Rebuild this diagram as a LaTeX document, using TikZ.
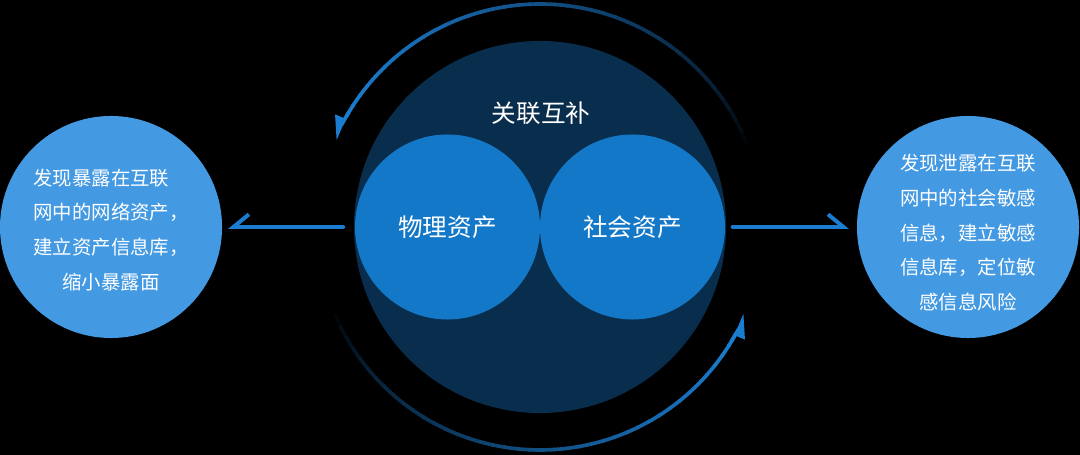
\documentclass[tikz,border=0pt]{standalone}
\usepackage{fontspec}
\usepackage{tikz}
\usetikzlibrary{arrows.meta}
\newfontfamily\cjk{Noto Sans CJK SC}
\definecolor{corenavy}{RGB}{9,45,77}
\definecolor{assetblue}{RGB}{20,120,200}
\definecolor{sideblue}{RGB}{67,153,226}
\definecolor{arrowblue}{RGB}{27,125,208}

\begin{document}
\begin{tikzpicture}[x=0.025cm,y=0.025cm,line join=round,
    bigc/.style={circle,fill=corenavy,minimum size=9.3cm,inner sep=0pt},
    assetc/.style={circle,fill=assetblue,minimum size=4.625cm,inner sep=0pt,
      text=white,font=\cjk\fontsize{17.5}{21}\selectfont},
    sidec/.style={circle,fill=sideblue,minimum size=5.55cm,inner sep=0pt},
    sidetext/.style={text=white,align=center,font=\cjk\fontsize{13.8}{24.6}\selectfont},
    link/.style={arrowblue,line width=2.8pt,line cap=round},
    loop/.style={line width=2.6pt}]
        \fill[black] (0,0) rectangle (1080,455);
        \node[bigc] (core) at (540,228) {};
        \node[assetc] (phys) at (447.5,228) {物理资产};
        \node[assetc] (soc) at (632.5,228) {社会资产};
        \node[text=white,font=\cjk\fontsize{17.5}{21}\selectfont] (title) at (541,342) {关联互补};
        \node[sidec] (leftc) at (111,228) {};
        \node[sidec] (rightc) at (968,228) {};
        \node[sidetext] (lefttext) at ([yshift=-2]leftc.center)
          {发现暴露在互联\hphantom{，}\\网中的网络资产，\\建立资产信息库，\\缩小暴露面};
        \node[sidetext] (righttext) at ([yshift=-4]rightc.center)
          {发现泄露在互联\\网中的社会敏感\\信息，建立敏感\\信息库，定位敏\\感信息风险};
        \draw[link,shorten <=7.5pt,shorten >=4pt,-{Straight Barb[right,length=11pt,width=18pt]}]
          (core.west) -- (leftc.east);
        \draw[link,shorten <=4.5pt,shorten >=5.5pt,-{Straight Barb[left,length=11pt,width=18pt]}]
          (core.east) -- (rightc.west);
        \foreach \i [evaluate=\i as \p using {100*pow((\i+0.5)/40,0.7)}] in {0,...,39}
          \draw[loop,arrowblue!\p!black] (core.center) ++(22+\i*3.2:223) arc (22+\i*3.2:25.6+\i*3.2:223);
        \draw[loop,arrowblue,-{Triangle[right,length=14pt,width=13pt]}]
          (core.center) ++(149:223) arc (149:157:223);
        \foreach \i [evaluate=\i as \p using {100*pow((\i+0.5)/40,0.7)}] in {0,...,39}
          \draw[loop,arrowblue!\p!black] (core.center) ++(203+\i*3.2:223) arc (203+\i*3.2:206.6+\i*3.2:223);
        \draw[loop,arrowblue,-{Triangle[right,length=14pt,width=13pt]}]
          (core.center) ++(329:223) arc (329:337:223);
\end{tikzpicture}
\end{document}
